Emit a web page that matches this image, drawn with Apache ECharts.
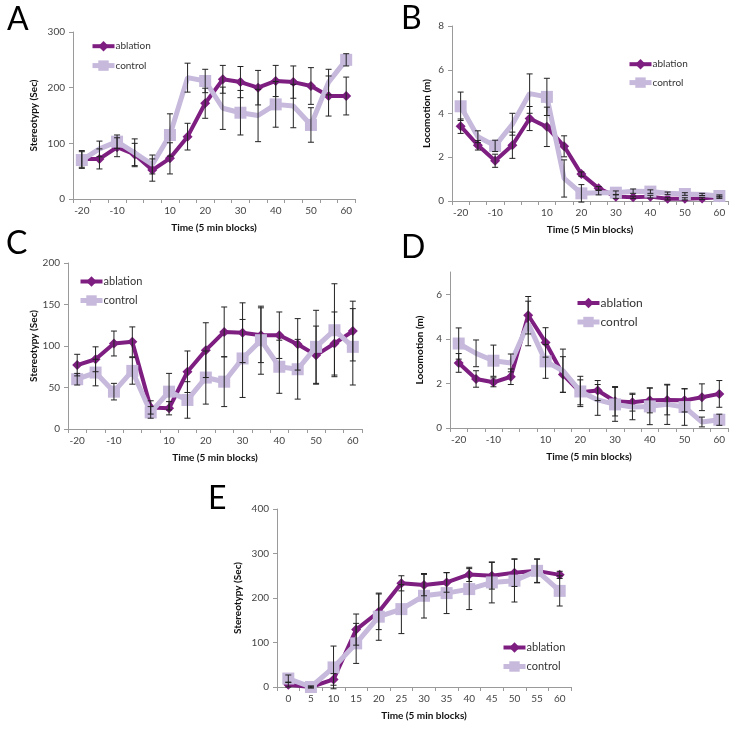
<!DOCTYPE html>
<html>
<head>
<meta charset="utf-8">
<script src="https://cdn.jsdelivr.net/npm/echarts@6/dist/echarts.min.js"></script>
<style>
  html, body { margin: 0; padding: 0; background: #fff; }
  #chart { width: 741px; height: 731px; }
</style>
</head>
<body>
<div id="chart"></div>
<script>
// time blocks (no 0 block in the A-D panels)
const blocks = ['-20', '-15', '-10', '-5', '5', '10', '15', '20', '25', '30', '35', '40', '45', '50', '55', '60'];
const blocksE = ['0', '5', '10', '15', '20', '25', '30', '35', '40', '45', '50', '55', '60'];

// A - stereotypy
const aAblation = [72, 72, 93, 80, 52, 73, 112, 172, 215, 210, 200, 212, 210, 203, 185, 185];
const aAblationErr = [15, 18, 17, 20, 20, 28, 24, 27, 25, 28, 31, 28, 29, 33, 36, 34];
const aControl = [70, 90, 103, 83, 62, 115, 218, 212, 163, 155, 150, 170, 167, 133, 210, 250];
const aControlErr = [15, 14, 12, 25, 17, 38, 26, 21, 38, 40, 47, 41, 39, 31, 23, 11];

// B - locomotion
const bAblation = [3.42, 2.55, 1.84, 2.55, 3.77, 3.39, 2.5, 1.23, 0.58, 0.2, 0.17, 0.2, 0.1, 0.1, 0.12, 0.17];
const bAblationErr = [0.33, 0.22, 0.3, 0.6, 0.55, 0.9, 0.48, 0.1, 0.08, 0.08, 0.05, 0.06, 0.05, 0.05, 0.05, 0.05];
const bControl = [4.33, 2.94, 2.52, 3.51, 4.91, 4.76, 1.03, 0.35, 0.38, 0.38, 0.45, 0.43, 0.35, 0.32, 0.3, 0.23];
const bControlErr = [0.65, 0.27, 0.26, 0.5, 0.9, 0.85, 0.85, 0.4, 0.1, 0.08, 0.1, 0.08, 0.06, 0.06, 0.05, 0.05];

// C - stereotypy
const cAblation = [77, 84, 103, 105, 26, 25, 69, 95, 117, 116, 113, 113, 102, 89, 103, 118];
const cAblationErr = [13, 15, 15, 18, 8, 8, 25, 33, 30, 36, 33, 28, 31, 35, 38, 36];
const cControl = [60, 68, 45, 70, 20, 45, 35, 62, 57, 85, 107, 75, 72, 99, 119, 99];
const cControlErr = [7, 16, 10, 16, 7, 22, 22, 32, 30, 47, 41, 32, 36, 44, 56, 46];

// D - locomotion
const dAblation = [2.92, 2.2, 2.05, 2.3, 5.06, 3.84, 2.4, 1.6, 1.68, 1.2, 1.16, 1.24, 1.26, 1.24, 1.38, 1.53];
const dAblationErr = [0.42, 0.37, 0.2, 0.35, 0.84, 0.66, 0.8, 0.56, 0.45, 0.66, 0.4, 0.56, 0.67, 0.52, 0.6, 0.6];
const dControl = [3.79, 3.35, 3.02, 2.92, 4.69, 2.99, 2.57, 1.64, 1.26, 1.06, 0.94, 0.97, 1.06, 0.94, 0.27, 0.37];
const dControlErr = [0.7, 0.6, 0.7, 0.4, 1.0, 0.76, 0.97, 0.68, 0.69, 0.76, 0.57, 0.82, 0.9, 0.82, 0.22, 0.25];

// E - stereotypy
const eAblation = [5, 0, 17, 129, 169, 233, 229, 235, 253, 250, 257, 261, 252];
const eAblationErr = [5, 2, 13, 35, 40, 17, 24, 22, 16, 30, 31, 27, 8];
const eControl = [19, 0, 44, 98, 158, 175, 205, 211, 220, 235, 239, 261, 216];
const eControlErr = [8, 2, 48, 45, 53, 55, 50, 46, 46, 46, 48, 26, 34];

const ABL = '#7d1e80';
const CTRL = '#c6b9dc';
const FONT = 'Lato, "Open Sans", sans-serif';

const panels = [
  { letter: 'A', lx: 19, ly: 21, grid: { left: 73, top: 32, width: 282, height: 167 },
    cats: blocks, max: 300, interval: 100, yName: 'Stereotypy (Sec)', yGap: 34, xName: 'Time (5 min blocks)',
    legend: { left: 85, top: 36, itemGap: 9, fontSize: 10 },
    abl: aAblation, ablErr: aAblationErr, ctrl: aControl, ctrlErr: aControlErr },
  { letter: 'B', lx: 413, ly: 20, grid: { left: 452, top: 26, width: 276, height: 175 },
    cats: blocks, max: 8, interval: 2, yName: 'Locomotion (m)', yGap: 20, xName: 'Time (5 Min blocks)',
    legend: { left: 622, top: 54, itemGap: 8, fontSize: 10 },
    abl: bAblation, ablErr: bAblationErr, ctrl: bControl, ctrlErr: bControlErr },
  { letter: 'C', lx: 18, ly: 245, grid: { left: 68, top: 263, width: 294, height: 166 },
    cats: blocks, max: 200, interval: 50, yName: 'Stereotypy (Sec)', yGap: 29, xName: 'Time (5 min blocks)',
    legend: { left: 73, top: 271, itemGap: 8, fontSize: 11 },
    abl: cAblation, ablErr: cAblationErr, ctrl: cControl, ctrlErr: cControlErr },
  { letter: 'D', lx: 413, ly: 249, grid: { left: 450, top: 272, width: 278, height: 156 },
    cats: blocks, max: 7, interval: 2, yName: 'Locomotion (m)', yGap: 25, xName: 'Time (5 min blocks)',
    legend: { left: 570, top: 292, itemGap: 7, fontSize: 12 },
    abl: dAblation, ablErr: dAblationErr, ctrl: dControl, ctrlErr: dControlErr },
  { letter: 'E', lx: 220, ly: 500, grid: { left: 277, top: 509, width: 294, height: 178 },
    cats: blocksE, max: 400, interval: 100, yName: 'Stereotypy (Sec)', yGap: 34, xName: 'Time (5 min blocks)',
    legend: { left: 496, top: 637, itemGap: 8, fontSize: 11 },
    abl: eAblation, ablErr: eAblationErr, ctrl: eControl, ctrlErr: eControlErr, allLabels: true }
];

// vertical error bar with small caps
function errorBar(params, api) {
  const x = api.value(0);
  const lo = api.coord([x, api.value(1)]);
  const hi = api.coord([x, api.value(2)]);
  const w = 3;
  const style = { stroke: '#222', lineWidth: 1 };
  return {
    type: 'group',
    children: [
      { type: 'line', shape: { x1: lo[0], y1: lo[1], x2: hi[0], y2: hi[1] }, style: style },
      { type: 'line', shape: { x1: lo[0] - w, y1: lo[1], x2: lo[0] + w, y2: lo[1] }, style: style },
      { type: 'line', shape: { x1: hi[0] - w, y1: hi[1], x2: hi[0] + w, y2: hi[1] }, style: style }
    ]
  };
}

const grids = [], xAxes = [], yAxes = [], series = [], legends = [], graphics = [];

panels.forEach((p, i) => {
  grids.push(p.grid);
  xAxes.push({
    type: 'category', gridIndex: i, data: p.cats, boundaryGap: true,
    name: p.xName, nameLocation: 'middle', nameGap: 24,
    nameTextStyle: { fontFamily: FONT, fontWeight: 'bold', fontSize: 10, color: '#111' },
    axisLine: { lineStyle: { color: '#9a9a9a', width: 1 } },
    axisTick: { show: true, interval: 0, length: 4, lineStyle: { color: '#9a9a9a' } },
    axisLabel: {
      interval: p.allLabels ? 0 : (idx, val) => Number(val) % 10 === 0,
      fontFamily: FONT, fontSize: 10, color: '#444', margin: 7
    },
    splitLine: { show: false }
  });
  yAxes.push({
    type: 'value', gridIndex: i, min: 0, max: p.max, interval: p.interval,
    name: p.yName, nameLocation: 'middle', nameGap: p.yGap,
    nameTextStyle: { fontFamily: FONT, fontWeight: 'bold', fontSize: 10, color: '#111' },
    axisLine: { show: true, lineStyle: { color: '#9a9a9a', width: 1 } },
    axisTick: { show: true, length: 4, lineStyle: { color: '#9a9a9a' } },
    axisLabel: { fontFamily: FONT, fontSize: 10, color: '#444', margin: 8, showMaxLabel: p.max % p.interval === 0 },
    splitLine: { show: false }
  });

  series.push({
    name: 'ablation', type: 'line', xAxisIndex: i, yAxisIndex: i, data: p.abl,
    symbol: 'diamond', symbolSize: 10, color: ABL,
    lineStyle: { width: 4, color: ABL }, itemStyle: { color: ABL },
    z: 2, animation: false
  });
  series.push({
    name: 'control', type: 'line', xAxisIndex: i, yAxisIndex: i, data: p.ctrl,
    symbol: 'rect', symbolSize: 12, color: CTRL,
    lineStyle: { width: 5, color: CTRL }, itemStyle: { color: CTRL },
    z: 3, animation: false
  });
  series.push({
    type: 'custom', xAxisIndex: i, yAxisIndex: i, renderItem: errorBar,
    data: p.abl.map((v, k) => [k, v - p.ablErr[k], v + p.ablErr[k]]),
    encode: { x: 0, y: [1, 2] }, z: 5, silent: true, animation: false
  });
  series.push({
    type: 'custom', xAxisIndex: i, yAxisIndex: i, renderItem: errorBar,
    data: p.ctrl.map((v, k) => [k, v - p.ctrlErr[k], v + p.ctrlErr[k]]),
    encode: { x: 0, y: [1, 2] }, z: 5, silent: true, animation: false
  });

  legends.push({
    data: [
      { name: 'ablation', lineStyle: { width: 4, color: ABL } },
      { name: 'control', lineStyle: { width: 5, color: CTRL } }
    ],
    orient: 'vertical', selectedMode: false,
    left: p.legend.left, top: p.legend.top, itemWidth: 22, itemHeight: 13, itemGap: p.legend.itemGap,
    lineStyle: { width: 'inherit' },
    textStyle: { fontFamily: FONT, fontSize: p.legend.fontSize, color: '#333', padding: [0, 0, 0, -4] }
  });

  graphics.push({
    type: 'text', left: p.lx - 12, top: p.ly - 17,
    style: { text: p.letter, font: '32px ' + FONT, fill: '#000' }
  });
});

const chart = echarts.init(document.getElementById('chart'), null, { renderer: 'canvas' });
chart.setOption({
  animation: false,
  backgroundColor: '#fff',
  grid: grids,
  xAxis: xAxes,
  yAxis: yAxes,
  legend: legends,
  graphic: graphics,
  series: series
});
</script>
</body>
</html>
